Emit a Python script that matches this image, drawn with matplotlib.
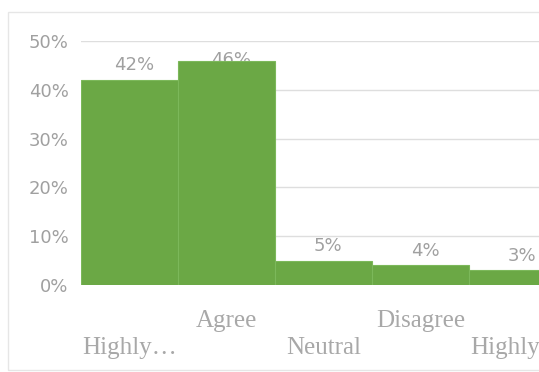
import matplotlib.pyplot as plt
from matplotlib.patches import Rectangle

# survey responses (share of respondents, %)
categories = ['Highly…', 'Agree', 'Neutral', 'Disagree', 'Highly…']
values = [42, 46, 5, 4, 3]
yticks = [0, 10, 20, 30, 40, 50]

W, H = 539, 372
fig = plt.figure(figsize=(W / 100, H / 100), dpi=100)
fig.patch.set_facecolor('white')

# light frame around the chart area (runs off the right edge)
fig.patches.append(Rectangle((8 / W, 1 - 370 / H), 1.0, (370 - 12) / H,
                             transform=fig.transFigure, fill=False,
                             edgecolor='#e6e6e6', linewidth=1.0))

left, right = 81, 81 + 5 * 97
top, bottom = 41, 285
ax = fig.add_axes([left / W, 1 - bottom / H, (right - left) / W, (bottom - top) / H])

x = list(range(len(values)))
ax.bar(x, values, width=1.0, color='#6ba845', edgecolor='#7cb85a',
       linewidth=0.8, zorder=3)

# data labels, kept inside the plot area like Excel does (tallest one ends up behind its bar)
for xi, v in zip(x, values):
    ax.text(xi + 0.05, min(v + 3, 46.1), f'{v}%', ha='center', va='center',
            fontsize=13, color='#a0a0a0', family='DejaVu Sans', zorder=2)

ax.set_xlim(-0.5, 4.5)
ax.set_ylim(0, 50)
ax.set_yticks(yticks)
ax.set_yticklabels([f'{t}%' for t in yticks], fontsize=13, color='#a0a0a0',
                   family='DejaVu Sans')
ax.yaxis.grid(True, color='#dedede', linewidth=1.0, zorder=0)
ax.set_axisbelow(True)

ax.set_xticks(x)
ax.set_xticklabels(['\n' + c if i % 2 == 0 else c for i, c in enumerate(categories)],
                   fontsize=18, color='#a8a8a8', family='Liberation Serif')
for t in ax.get_xticklabels():
    t.set_linespacing(1.3)

ax.tick_params(axis='both', length=0)
ax.tick_params(axis='x', pad=18)
ax.tick_params(axis='y', pad=9)
for s in ax.spines.values():
    s.set_visible(False)

fig.savefig('out.png', dpi=100)
